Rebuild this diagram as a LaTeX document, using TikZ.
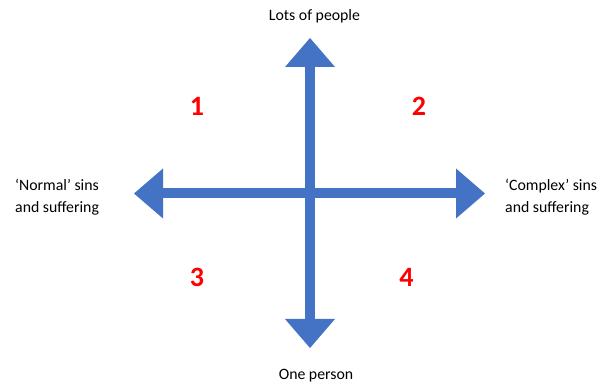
\documentclass[tikz,border=0pt]{standalone}
\usepackage{fontspec}
\setmainfont{Carlito}
\usetikzlibrary{arrows.meta}
\definecolor{axisblue}{HTML}{4472C4}
\definecolor{numred}{HTML}{FF0000}
\tikzset{
  axisarrow/.style={draw=axisblue, line width=10pt,
    {Triangle[length=29pt,width=50pt,line width=0pt]}-{Triangle[length=29pt,width=50pt,line width=0pt]}},
  axislabel/.style={font=\fontsize{15.8}{21.5}\selectfont, text=black, inner sep=0pt},
  quadnum/.style={font=\fontsize{28}{30}\selectfont\bfseries, text=numred, inner sep=0pt}
}
\begin{document}
\begin{tikzpicture}[x=1pt,y=1pt]
\useasboundingbox (0,0) rectangle (614,385);
\coordinate (L) at (134,191.5);
\coordinate (R) at (485,191.5);
\coordinate (T) at (310,347);
\coordinate (B) at (310,37);
\draw[axisarrow] (L) -- (R);
\draw[axisarrow] (B) -- (T);
\node[axislabel] (top) at (314.5,369) {Lots of people};
\node[axislabel] (bottom) at (316,9) {One person};
\node[axislabel, anchor=west, align=left] (left) at (15,188) {‘Normal’ sins\\and suffering};
\node[axislabel, anchor=west, align=left] (right) at (505,188) {‘Complex’ sins\\and suffering};
\node[quadnum] (q1) at (197,279) {1};
\node[quadnum] (q2) at (419,279) {2};
\node[quadnum] (q3) at (197,107.5) {3};
\node[quadnum] (q4) at (406.5,107.5) {4};
\end{tikzpicture}
\end{document}
